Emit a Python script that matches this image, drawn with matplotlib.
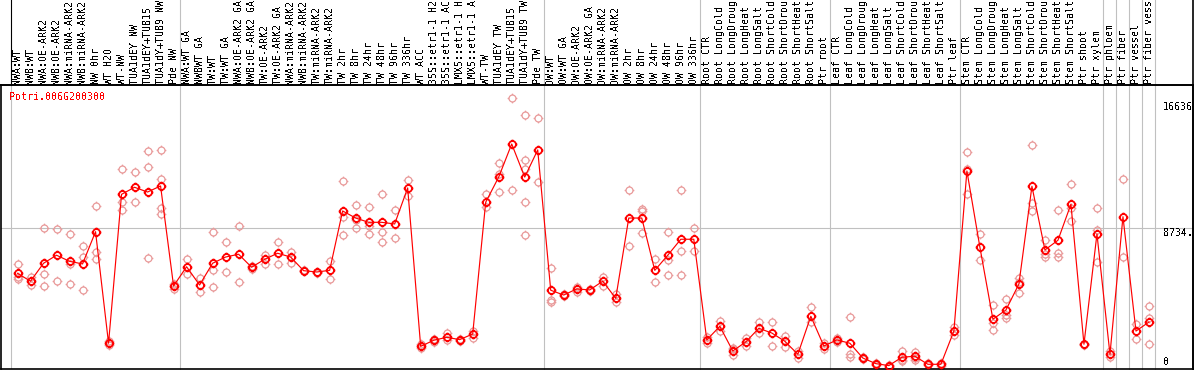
import matplotlib
matplotlib.use("Agg")
import matplotlib.pyplot as plt
from matplotlib.path import Path
from matplotlib.transforms import blended_transform_factory

plt.rcParams["text.antialiased"] = False

title = "Potri.006G200300"

labels = [
    "NWA:WT", "NWB:WT", "NWA:OE-ARK2", "NWB:OE-ARK2", "NWA:miRNA-ARK2", "NWB:miRNA-ARK2",
    "NW 0hr", "WT H2O", "WT-NW", "TUA1dEY NW", "TUA1dEY+TUB15", "TUA1dY+TUB9 NW", "Pde NW",
    "NWA:WT GA", "NWBWT GA", "TW:WT", "TW:WT GA", "NWA:OE-ARK2 GA", "NWB:OE-ARK2 GA",
    "TW:OE-ARK2", "TW:OE-ARK2 GA", "NWA:miRNA-ARK2", "NWB:miRNA-ARK2", "TW:miRNA-ARK2",
    "TW:miRNA-ARK2", "TW 2hr", "TW 8hr", "TW 24hr", "TW 48hr", "TW 96hr", "TW 336hr",
    "WT ACC", "35S::etr1-1 H2O", "35S::etr1-1 ACC", "LMX5::etr1-1 H2O", "LMX5::etr1-1 ACC",
    "WT-TW", "TUA1dEY TW", "TUA1dEY+TUB15", "TUA1dY+TUB9 TW", "Pde TW",
    "OW:WT", "OW:WT GA", "OW:OE-ARK2", "OW:OE-ARK2 GA", "OW:miRNA-ARK2", "OW:miRNA-ARK2",
    "OW 2hr", "OW 8hr", "OW 24hr", "OW 48hr", "OW 96hr", "OW 336hr",
    "Root CTR", "Root LongCold", "Root LongDrought", "Root LongHeat", "Root LongSalt",
    "Root ShortCold", "Root ShortDrought", "Root ShortHeat", "Root ShortSalt", "Ptr root",
    "Leaf CTR", "Leaf LongCold", "Leaf LongDrought", "Leaf LongHeat", "Leaf LongSalt",
    "Leaf ShortCold", "Leaf ShortDrought", "Leaf ShortHeat", "Leaf ShortSalt", "Ptr leaf",
    "Stem CTR", "Stem LongCold", "Stem LongDrought", "Stem LongHeat", "Stem LongSalt",
    "Stem ShortCold", "Stem ShortDrought", "Stem ShortHeat", "Stem ShortSalt", "Ptr shoot",
    "Ptr xylem", "Ptr phloem", "Ptr fiber", "Ptr vessel", "Ptr fiber vessel",
]

means = [
    5980, 5500, 6590, 7080, 6710, 6550, 8510, 1730, 10780, 11210,
    10920, 11290, 5210, 6380, 5270, 6590, 6970, 7140, 6350, 6830,
    7200, 6970, 6140, 6060, 6160, 9770, 9340, 9080, 9080, 8980,
    11170, 1540, 1910, 2090, 1950, 2290, 10300, 11830, 13840, 11830,
    13480, 4950, 4660, 5030, 4970, 5500, 4460, 9340, 9340, 6160,
    7080, 8050, 8050, 1930, 2760, 1260, 1810, 2640, 2350, 1850,
    1060, 3370, 1560, 1930, 1730, 830, 490, 370, 880, 940,
    450, 450, 2470, 12200, 7560, 3190, 3750, 5330, 11270, 7400,
    7990, 10180, 1670, 8370, 1060, 9420, 2470, 3020,
]

replicates = [
    [6550, 5740, 5630], [5740, 5270], [8720, 5920, 5190], [8660, 5500],
    [8370, 6530, 5330], [7640, 6970, 4970], [10070, 7280, 6830], [1620, 1870],
    [12300, 10300, 9830], [12140, 10300], [13400, 12420, 6890],
    [13460, 11690, 9930, 9570], [5050, 5330],
    [6850, 5920], [5680, 4840], [8470, 6180, 5130], [7870, 6040], [8840, 5430],
    [6420, 6270], [7110, 6560], [7870, 6530], [7260, 6630], [6100, 6180],
    [6010, 6090], [6730, 5620], [11590, 9420, 8290], [10110, 9220, 8720],
    [10010, 8860, 8370], [10780, 8510, 7900], [9830, 8110], [11650, 10660],
    [1420, 1670], [2010, 1810], [2330, 1930], [1880, 2010], [2070, 2470],
    [10800, 10030], [12670, 12000, 10920], [16636, 11040],
    [15580, 12870, 12300, 10300, 8310], [15400, 11530],
    [6290, 4360, 4220], [4600, 4720], [5170, 4860], [5030, 4890], [5770, 5230],
    [4700, 4260], [11040, 7640], [9910, 9770, 8410], [6850, 5450],
    [8470, 6790, 5880], [11040, 7320, 5880], [8734, 7320],
    [2130, 1760], [3100, 2490], [1440, 1360, 1000], [1580, 2020], [3000, 2330],
    [3000, 1580], [2170, 1480], [1280, 860], [3910, 3020], [1760, 1400],
    [2030, 1820], [3310, 1080, 910], [910, 770], [550, 430], [430, 300],
    [1280, 710, 650], [1220, 830, 710], [510, 390], [540, 360], [2700, 2230],
    [13350, 12340, 10780], [8350, 6770], [4040, 2980, 2520], [4440, 3450, 3280],
    [5710, 5450, 4770], [13760, 10240, 9770], [8010, 7140, 6990],
    [9830, 7230, 6970], [11390, 9930, 9160], [1620, 1710],
    [9950, 8610, 6650], [1240, 880], [11710, 6970], [2900, 1970],
    [3980, 3280, 1670],
]

separators_after = [-1, 12, 40, 52, 62, 72, 83, 84, 85, 86, 87]
y_max_label = "16636"
y_mid_value = 8734
y_mid_label = "8734."
y_min_label = "0"

W, H = 1194, 370
fig = plt.figure(figsize=(W / 100, H / 100), dpi=100)
fig.patch.set_facecolor("white")

top_px, bot_px, left_px, right_px = 85, 369, 1, 1193
ax = fig.add_axes([left_px / W, (H - bot_px) / H, (right_px - left_px) / W, (bot_px - top_px) / H])
ax.set_facecolor("white")
ax.set_xlim(-1.269, 90.385)
ax.set_ylim(164, 17426)
ax.set_xticks([])
ax.set_yticks([])
for s in ax.spines.values():
    s.set_color("black")
    s.set_linewidth(1.2)

mono = "DejaVu Sans Mono"
gray = "#c0c0c0"
red = "#ff0000"
pink = "#e99a9a"

# grid lines
ax.axhline(y_mid_value, color=gray, lw=0.8, zorder=1)
ext = (bot_px - 0) / (bot_px - top_px)
for k in separators_after:
    xv = k + 0.5
    if k == -1:
        ax.axvline(xv, 0, 1, color=gray, lw=0.8, zorder=1)
        ax.axvline(xv, 1, ext, color="black", lw=0.8, zorder=1, clip_on=False)
    else:
        ax.axvline(xv, 0, ext, color=gray, lw=0.8, zorder=1, clip_on=False)

# marker: circle with small ticks
circ = Path.circle((0, 0), 1.0)
ticks = Path([(0, 1), (0, 1.4), (0, -1), (0, -1.4), (1, 0), (1.4, 0), (-1, 0), (-1.4, 0)],
             [Path.MOVETO, Path.LINETO] * 4)
marker = Path.make_compound_path(circ, ticks)

xs = list(range(len(labels)))
for i, reps in enumerate(replicates):
    ax.plot([i] * len(reps), reps, linestyle="none", marker=marker, ms=7,
            mfc="none", mec=pink, mew=0.9, zorder=2)

ax.plot(xs, means, color=red, lw=0.85, zorder=3)
ax.plot(xs, means, linestyle="none", marker=marker, ms=7, mfc="none",
        mec=red, mew=1.3, zorder=4)

# top labels
tr = blended_transform_factory(ax.transData, fig.transFigure)
for i, lab in enumerate(labels):
    fig.text(i, (H - 84) / H, lab, transform=tr, rotation=90, ha="center", va="bottom",
             fontsize=7.2, family=mono, color="black")

# horizontal line under labels extending to the left edge
fig.add_artist(plt.Line2D([0, 1], [(H - top_px) / H] * 2, transform=fig.transFigure,
                          color="black", lw=1.2))
fig.add_artist(plt.Line2D([right_px / W] * 2, [0, 1], transform=fig.transFigure,
                          color="black", lw=1.2))

fig.text(9 / W, (H - 92) / H, title, color=red, fontsize=7.2, family=mono,
         ha="left", va="top")

fig.text(1163 / W, (H - 107) / H, y_max_label, fontsize=7.2, family=mono, ha="left", va="center")
fig.text(1163 / W, (H - 232.5) / H, y_mid_label, fontsize=7.2, family=mono, ha="left", va="center")
fig.text(1163 / W, (H - 362) / H, y_min_label, fontsize=7.2, family=mono, ha="left", va="center")

fig.savefig("out.png", dpi=100)
